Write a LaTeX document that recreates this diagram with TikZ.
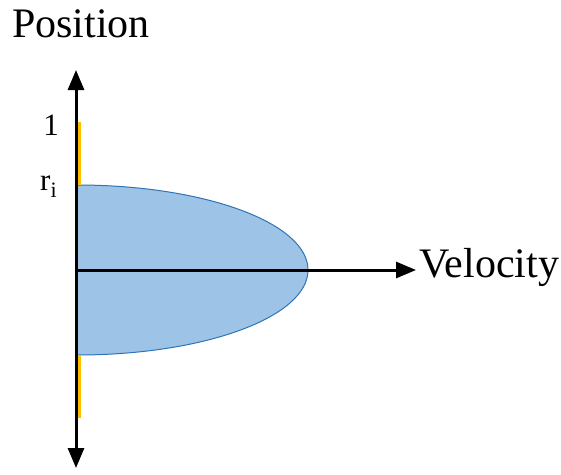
\documentclass[tikz,border=0pt]{standalone}
\usepackage{fontspec}
\setmainfont{Liberation Serif}
\usetikzlibrary{arrows.meta}
\begin{document}
\begin{tikzpicture}[x=1pt,y=-1pt,
  axis/.style={line width=3pt, -{Triangle[length=20pt,width=16pt]}},
  wall/.style={line width=3pt},
  lbl/.style={inner sep=0pt, font=\fontsize{42}{48}\selectfont},
  small/.style={inner sep=0pt, font=\fontsize{31}{34}\selectfont}]
\useasboundingbox (0,0) rectangle (561,474);
% velocity profile
\fill[fill={rgb,255:red,157;green,195;blue,230}, draw={rgb,255:red,46;green,117;blue,182}, line width=1pt]
  (77,185) arc[start angle=-90, end angle=90, x radius=231, y radius=85] -- cycle;
% wall segments
\coordinate (wt1) at (79,122); \coordinate (wt2) at (79,185);
\coordinate (wb1) at (79,355); \coordinate (wb2) at (79,418);
\draw[wall, draw={rgb,255:red,255;green,192;blue,0}] (wt1) -- (wt2);
\draw[wall, draw={rgb,255:red,255;green,192;blue,0}] (wb1) -- (wb2);
% axes
\coordinate (o) at (76,270);
\coordinate (top) at (76,70);
\coordinate (bot) at (76,468);
\coordinate (right) at (416,270);
\draw[axis] (o) -- (top);
\draw[axis] (o) -- (bot);
\draw[axis] (o) -- (right);
% labels
\node[lbl, anchor=base west] (pos) at (12,37) {Position};
\node[lbl, anchor=base west] (vel) at (419,277) {Velocity};
\node[small, anchor=base] (one) at (51,135) {1};
\node[small, anchor=base west] (ri) at (40,190) {r\raisebox{-0.25em}{\fontsize{22}{22}\selectfont i}};
\end{tikzpicture}
\end{document}
